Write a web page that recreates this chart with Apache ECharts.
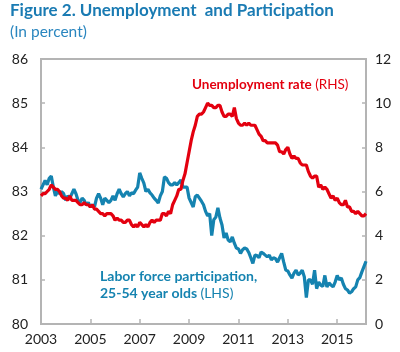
<!DOCTYPE html>
<html>
<head>
<meta charset="utf-8">
<script src="https://cdn.jsdelivr.net/npm/echarts@6/dist/echarts.min.js"></script>
<style>
html,body{margin:0;padding:0;background:#fff;}
#chart{width:400px;height:352px;}
</style>
</head>
<body>
<div id="chart"></div>
<script>
// Monthly observations, Jan 2003 - Mar 2016
const years = [2003,2004,2005,2006,2007,2008,2009,2010,2011,2012,2013,2014,2015,2016];
const monthsInLastYear = 3;
const xTickLabels = ['2003','2005','2007','2009','2011','2013','2015'];
const leftTicks = [80,81,82,83,84,85,86];
const rightTicks = [0,2,4,6,8,10,12];

// Unemployment rate (RHS), percent
const unemploymentRate = [
5.8,5.9,5.9,6.0,6.1,6.3,6.2,6.1,6.1,6.0,5.8,5.7,
5.7,5.6,5.8,5.6,5.6,5.6,5.5,5.4,5.4,5.5,5.4,5.4,
5.3,5.4,5.2,5.2,5.1,5.0,5.0,4.9,5.0,5.0,5.0,4.9,
4.7,4.8,4.7,4.7,4.6,4.6,4.7,4.7,4.5,4.4,4.5,4.4,
4.6,4.5,4.4,4.5,4.4,4.6,4.7,4.6,4.7,4.7,4.7,5.0,
5.0,4.9,5.1,5.0,5.4,5.6,5.8,6.1,6.1,6.5,6.8,7.3,
7.8,8.3,8.7,9.0,9.4,9.5,9.5,9.6,9.8,10.0,9.9,9.9,
9.8,9.8,9.9,9.9,9.6,9.4,9.4,9.5,9.5,9.4,9.8,9.3,
9.1,9.0,9.0,9.1,9.0,9.1,9.0,9.0,9.0,8.8,8.6,8.5,
8.3,8.3,8.2,8.2,8.2,8.2,8.2,8.1,7.8,7.8,7.7,7.9,
8.0,7.7,7.5,7.6,7.5,7.5,7.3,7.2,7.2,7.2,6.9,6.7,
6.6,6.7,6.7,6.2,6.3,6.1,6.2,6.1,5.9,5.7,5.8,5.6,
5.7,5.5,5.4,5.4,5.6,5.3,5.3,5.1,5.1,5.0,5.1,5.0,
4.9,4.9,5.0
];

// Labor force participation, 25-54 year olds (LHS), percent
const participationRate = [
83.05,83.15,83.25,83.15,83.3,83.35,83.1,82.9,83.0,82.95,83.0,82.95,
82.8,82.9,82.85,82.95,83.05,82.95,82.8,82.75,82.85,82.8,82.7,82.75,
82.65,82.7,82.65,82.85,82.95,82.85,82.7,82.85,82.8,82.75,82.8,82.9,
82.8,82.95,83.05,82.95,82.88,82.95,83.0,82.9,82.97,82.95,83.03,83.1,
83.42,83.3,83.19,83.0,83.05,82.97,82.92,82.85,82.8,82.74,82.9,83.0,
83.33,83.3,83.2,83.15,83.15,83.2,83.15,83.2,83.26,83.1,83.1,83.1,
82.85,82.75,82.65,82.88,82.92,82.85,82.78,82.7,82.55,82.45,82.5,82.0,
82.36,82.42,82.63,82.4,82.24,81.95,82.06,81.9,81.86,81.97,81.83,81.72,
81.7,81.6,81.68,81.72,81.7,81.62,81.5,81.37,81.56,81.55,81.5,81.63,
81.6,81.56,81.52,81.56,81.45,81.5,81.48,81.4,81.5,81.6,81.4,81.22,
81.2,81.11,81.04,81.15,81.22,81.11,81.15,81.22,81.07,80.6,81.0,81.0,
80.9,81.22,80.8,80.95,80.88,80.85,81.1,80.84,80.93,80.88,80.84,80.95,
81.1,81.0,81.04,80.9,80.8,80.77,80.7,80.73,80.8,80.84,81.0,81.05,
81.18,81.3,81.42
];

const categories = [];
years.forEach((y, i) => {
  const n = (i === years.length - 1) ? monthsInLastYear : 12;
  for (let m = 1; m <= n; m++) categories.push(y + '-' + (m < 10 ? '0' + m : m));
});

const FONT = 'Lato';
const RED = '#e3000f';
const BLUE = '#1583b0';
const TITLEBLUE = '#1a7bb3';
const SUBBLUE = '#2a86bf';
const AXISGRAY = '#b4b4b4';

const tickEvery = (idx) => idx % 24 === 0;

const chart = echarts.init(document.getElementById('chart'), null, {renderer: 'canvas'});
chart.setOption({
  animation: false,
  backgroundColor: '#fff',
  grid: {left: 41, right: 34, top: 59, bottom: 28, show: true, borderColor: AXISGRAY, borderWidth: 2, containLabel: false},
  xAxis: {
    type: 'category',
    data: categories,
    boundaryGap: false,
    axisLine: {show: false},
    axisTick: {show: true, inside: true, length: 5, interval: tickEvery, lineStyle: {color: AXISGRAY, width: 1.5}},
    axisLabel: {
      interval: tickEvery, margin: 8, fontFamily: FONT, fontSize: 14, color: '#222',
      formatter: (v) => { const y = v.slice(0, 4); return xTickLabels.indexOf(y) >= 0 ? y : ''; }
    },
    splitLine: {show: false}
  },
  yAxis: [
    {
      type: 'value', min: leftTicks[0], max: leftTicks[leftTicks.length - 1], interval: 1, position: 'left',
      axisLine: {show: false},
      axisTick: {show: true, inside: true, length: 4, lineStyle: {color: AXISGRAY, width: 1.5}},
      axisLabel: {margin: 13, fontFamily: FONT, fontSize: 14, color: '#222'},
      splitLine: {show: false}
    },
    {
      type: 'value', min: rightTicks[0], max: rightTicks[rightTicks.length - 1], interval: 2, position: 'right',
      axisLine: {show: false},
      axisTick: {show: true, inside: true, length: 4, lineStyle: {color: AXISGRAY, width: 1.5}},
      axisLabel: {margin: 9, fontFamily: FONT, fontSize: 14, color: '#222'},
      splitLine: {show: false}
    }
  ],
  series: [
    {
      name: 'Labor force participation, 25-54 year olds (LHS)',
      type: 'line', yAxisIndex: 0, data: participationRate, showSymbol: false, z: 2,
      lineStyle: {color: BLUE, width: 3.2}
    },
    {
      name: 'Unemployment rate (RHS)',
      type: 'line', yAxisIndex: 1, data: unemploymentRate, showSymbol: false, z: 3,
      lineStyle: {color: RED, width: 3.2}
    }
  ],
  graphic: [
    {type: 'text', left: 10, top: 2, style: {text: 'Figure 2. Unemployment  and Participation', font: 'bold 17px ' + FONT, fill: TITLEBLUE}},
    {type: 'text', left: 10, top: 24, style: {text: '(In percent)', font: '15.5px ' + FONT, fill: SUBBLUE}},
    {type: 'text', left: 192, top: 78, style: {
      text: '{b|Unemployment rate} {n|(RHS)}',
      rich: {b: {font: 'bold 13.5px ' + FONT, fill: RED}, n: {font: '13.5px ' + FONT, fill: RED}}
    }},
    {type: 'text', left: 100, top: 268, style: {
      text: '{b|Labor force participation,}\n{b|25-54 year olds} {n|(LHS)}',
      lineHeight: 17,
      rich: {b: {font: 'bold 14px ' + FONT, fill: BLUE, lineHeight: 17}, n: {font: '14px ' + FONT, fill: BLUE, lineHeight: 17}}
    }}
  ]
});
</script>
</body>
</html>
